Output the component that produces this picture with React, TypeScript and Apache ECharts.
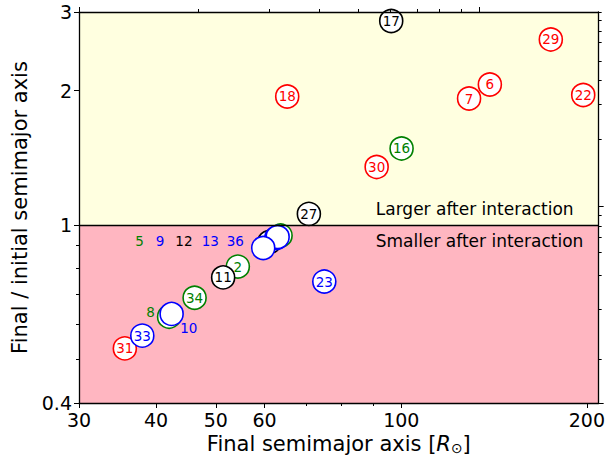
import React, { useEffect, useRef } from 'react';
import * as echarts from 'echarts';

// ---- data ----
const pointIds = ['17', '29', '18', '6', '7', '22', '16', '30', '27', '23', '2', '11', '34', '31', '33', '5', '12', '13', '9', '36', '8', '10'];
const finalSemimajor = [96.3, 174.8, 65.3, 139.2, 128.8, 197.3, 100.1, 91.2, 70.8, 75.0, 54.3, 51.4, 46.2, 35.6, 38.0, 63.7, 61.1, 62.7, 63.0, 59.7, 42.0, 42.4];
const ratioFinalInitial = [2.864, 2.604, 1.941, 2.065, 1.921, 1.956, 1.485, 1.350, 1.060, 0.748, 0.808, 0.764, 0.688, 0.530, 0.566, 0.948, 0.917, 0.936, 0.941, 0.889, 0.624, 0.633];
const pointColors = ['black', 'red', 'red', 'red', 'red', 'red', 'green', 'red', 'black', 'blue', 'green', 'black', 'green', 'red', 'blue', 'green', 'black', 'blue', 'blue', 'blue', 'green', 'blue'];
const pointLabelShown = [true, true, true, true, true, true, true, true, true, true, true, true, true, true, true, false, false, false, false, false, false, false];

// labels of crowded points, written beside them
const noteTexts = ['5', '9', '12', '13', '36', '8', '10'];
const noteX = [37.6, 40.6, 44.4, 49.0, 53.8, 39.2, 45.2];
const noteY = [0.923, 0.923, 0.923, 0.923, 0.923, 0.640, 0.588];
const noteColors = ['green', 'blue', 'black', 'blue', 'blue', 'green', 'blue'];

const regionTexts = ['Larger after interaction', 'Smaller after interaction'];
const regionX = [90.9, 90.9];
const regionY = [1.087, 0.923];

// ticks
const xMin = 29.999;
const xMax = 209;
const yMin = 0.39999;
const yMax = 3.00001;
const xLabelTicks = [30, 40, 50, 60, 100, 200];
const xMinorTicks = [70, 80, 90];
const topMajorTicks = [30, 133.7];
const topMinorTicks = [46.9, 61.1, 73.6, 85.2, 95.9, 106.1, 115.1, 125.0];
const yLabelTicks = [0.4, 1, 2, 3];
const yMinorTicks = [0.5, 0.6, 0.7, 0.8, 0.9];
const rightMajorTicks = [0.4, 1.1];
const rightMinorTicks = [0.501, 0.648, 0.774, 0.868, 0.942, 0.997, 1.05, 1.559, 1.867, 2.113, 2.33, 2.561, 2.71, 2.869, 3.0];

const colorMap: Record<string, string> = { red: '#ff0000', green: '#008000', blue: '#0000ff', black: '#000000' };
const FONT = 'DejaVu Sans';

function makeAxis(position: string, min: number, max: number, ticks: number[], tickLen: number, showLine: boolean, labels?: number[]) {
  return {
    type: 'log',
    logBase: 10,
    position,
    min,
    max,
    z: 10,
    axisLine: { show: showLine, onZero: false, lineStyle: { color: '#000', width: 1.3 } },
    axisTick: { show: true, customValues: ticks, length: tickLen, lineStyle: { color: '#000', width: 1 } },
    axisLabel: labels
      ? { show: true, customValues: labels, color: '#000', fontSize: 19, fontFamily: FONT, margin: 7 }
      : { show: false },
    splitLine: { show: false },
    minorTick: { show: false },
    minorSplitLine: { show: false },
  } as any;
}

export default function App() {
  const ref = useRef<HTMLDivElement>(null);
  useEffect(() => {
    document.body.style.margin = '0';
    const chart = echarts.init(ref.current!, null, { renderer: 'svg' });

    const xAxes = [
      {
        ...makeAxis('bottom', xMin, xMax, xLabelTicks, 5, true, xLabelTicks),
        name: 'Final semimajor axis [{r|R}{s|⊙}]',
        nameLocation: 'middle',
        nameGap: 24,
        nameTextStyle: {
          color: '#000', fontSize: 21, fontFamily: FONT,
          rich: {
            r: { fontSize: 21, fontStyle: 'italic', fontFamily: FONT, color: '#000' },
            s: { fontSize: 14, fontFamily: FONT, color: '#000', verticalAlign: 'bottom' },
          },
        },
      },
      makeAxis('bottom', xMin, xMax, xMinorTicks, 3, false),
      makeAxis('top', xMin, xMax, topMajorTicks, 5, true),
      makeAxis('top', xMin, xMax, topMinorTicks, 3, false),
    ];
    const yAxes = [
      {
        ...makeAxis('left', yMin, yMax, yLabelTicks, 5, true, yLabelTicks),
        name: 'Final / initial semimajor axis',
        nameLocation: 'middle',
        nameGap: 46,
        nameTextStyle: { color: '#000', fontSize: 21, fontFamily: FONT },
      },
      makeAxis('left', yMin, yMax, yMinorTicks, 3, false),
      makeAxis('right', yMin, yMax, rightMajorTicks, 5, true),
      makeAxis('right', yMin, yMax, rightMinorTicks, 3, false),
    ];

    const pointData = pointIds.map((id, i) => {
      const c = colorMap[pointColors[i]];
      return {
        value: [finalSemimajor[i], ratioFinalInitial[i]],
        name: id,
        itemStyle: { color: '#ffffff', borderColor: c, borderWidth: 1.6, opacity: 1 },
        label: { show: pointLabelShown[i], color: c },
      };
    });

    const noteData = noteTexts.map((t, i) => ({
      value: [noteX[i], noteY[i]],
      name: t,
      label: { color: colorMap[noteColors[i]], fontSize: 13.5, align: 'center' },
    }));
    const regionData = regionTexts.map((t, i) => ({
      value: [regionX[i], regionY[i]],
      name: t,
      label: { color: '#000', fontSize: 17, align: 'left' },
    }));

    chart.setOption({
      animation: false,
      backgroundColor: '#ffffff',
      textStyle: { fontFamily: FONT },
      grid: { left: 79, right: 8, top: 12, bottom: 61, containLabel: false },
      xAxis: xAxes,
      yAxis: yAxes,
      series: [
        {
          type: 'scatter',
          xAxisIndex: 0,
          yAxisIndex: 0,
          z: 1,
          silent: true,
          symbolSize: 0,
          itemStyle: { opacity: 1 },
          data: [...noteData, ...regionData],
          label: {
            show: true,
            position: 'inside',
            formatter: (p: any) => p.name,
            fontFamily: FONT,
            verticalAlign: 'middle',
          },
          markArea: {
            silent: true,
            itemStyle: { opacity: 1 },
            data: [
              [{ yAxis: 1, itemStyle: { color: '#ffffe0', opacity: 1 } }, { yAxis: yMax }],
              [{ yAxis: yMin, itemStyle: { color: '#ffb6c1', opacity: 1 } }, { yAxis: 1 }],
            ],
          },
          markLine: {
            silent: true,
            symbol: ['none', 'none'],
            label: { show: false },
            lineStyle: { color: '#000', width: 1.3, type: 'solid', opacity: 1 },
            data: [{ yAxis: 1 }],
          },
        },
        {
          type: 'scatter',
          xAxisIndex: 0,
          yAxisIndex: 0,
          z: 3,
          silent: true,
          symbol: 'circle',
          symbolSize: 23,
          itemStyle: { opacity: 1 },
          data: pointData,
          label: {
            position: 'inside',
            formatter: (p: any) => p.name,
            fontSize: 13.5,
            fontFamily: FONT,
          },
        },
      ],
    } as any);

    return () => chart.dispose();
  }, []);
  return <div ref={ref} style={{ width: 608, height: 464 }} />;
}
